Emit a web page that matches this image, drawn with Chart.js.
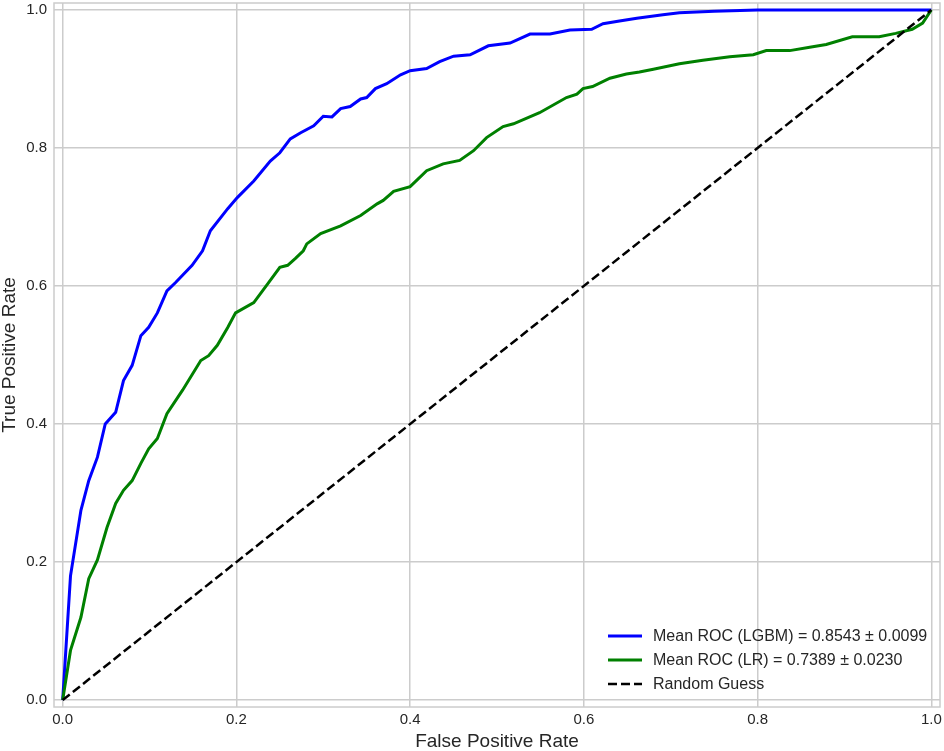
<!DOCTYPE html>
<html>
<head>
<meta charset="utf-8">
<script src="https://cdn.jsdelivr.net/npm/chart.js@4.4.1/dist/chart.umd.min.js"></script>
<style>
  html, body { margin: 0; padding: 0; background: #fff; }
  #wrap { width: 944px; height: 751px; position: relative; }
</style>
</head>
<body>
<div id="wrap"><canvas id="roc"></canvas></div>
<script>
// mean ROC curves
const lgbmFpr = [0, 0.009, 0.021, 0.030, 0.040, 0.049, 0.061, 0.070, 0.080, 0.090, 0.099, 0.109, 0.120, 0.130, 0.149, 0.161, 0.170, 0.190, 0.201, 0.220, 0.239, 0.250, 0.262, 0.274, 0.289, 0.300, 0.310, 0.320, 0.331, 0.343, 0.350, 0.360, 0.373, 0.389, 0.400, 0.419, 0.434, 0.450, 0.469, 0.490, 0.515, 0.538, 0.561, 0.584, 0.609, 0.622, 0.641, 0.661, 0.691, 0.710, 0.750, 0.800, 1.0];
const lgbmTpr = [0, 0.180, 0.275, 0.318, 0.352, 0.400, 0.417, 0.463, 0.485, 0.528, 0.540, 0.561, 0.593, 0.605, 0.630, 0.651, 0.680, 0.712, 0.728, 0.752, 0.781, 0.793, 0.813, 0.822, 0.832, 0.846, 0.845, 0.857, 0.860, 0.871, 0.873, 0.886, 0.893, 0.906, 0.912, 0.915, 0.925, 0.933, 0.935, 0.948, 0.952, 0.965, 0.965, 0.971, 0.972, 0.980, 0.984, 0.988, 0.993, 0.996, 0.998, 1.0, 1.0];

const lrFpr = [0, 0.009, 0.021, 0.030, 0.040, 0.051, 0.061, 0.070, 0.080, 0.090, 0.099, 0.109, 0.120, 0.138, 0.159, 0.168, 0.178, 0.190, 0.199, 0.220, 0.236, 0.250, 0.259, 0.268, 0.277, 0.281, 0.297, 0.320, 0.343, 0.362, 0.369, 0.381, 0.400, 0.419, 0.438, 0.457, 0.473, 0.488, 0.507, 0.519, 0.549, 0.580, 0.592, 0.599, 0.610, 0.630, 0.649, 0.664, 0.680, 0.710, 0.737, 0.768, 0.795, 0.810, 0.837, 0.860, 0.879, 0.909, 0.940, 0.959, 0.978, 0.990, 1.0];
const lrTpr = [0, 0.072, 0.120, 0.176, 0.203, 0.250, 0.285, 0.304, 0.318, 0.343, 0.364, 0.379, 0.415, 0.449, 0.492, 0.499, 0.514, 0.540, 0.561, 0.576, 0.603, 0.627, 0.630, 0.640, 0.651, 0.661, 0.676, 0.687, 0.702, 0.719, 0.724, 0.737, 0.744, 0.767, 0.777, 0.782, 0.796, 0.815, 0.831, 0.835, 0.851, 0.873, 0.878, 0.886, 0.889, 0.901, 0.907, 0.910, 0.914, 0.922, 0.927, 0.932, 0.935, 0.941, 0.941, 0.946, 0.950, 0.961, 0.961, 0.966, 0.972, 0.981, 1.0];

const guessFpr = [0, 1];
const guessTpr = [0, 1];

const seriesLabels = [
  'Mean ROC (LGBM) = 0.8543 \u00b1 0.0099',
  'Mean ROC (LR) = 0.7389 \u00b1 0.0230',
  'Random Guess'
];
const tickVals = [0, 0.2, 0.4, 0.6, 0.8, 1.0];

function pts(xs, ys) {
  return xs.map((x, i) => ({ x: x, y: ys[i] }));
}

const FONT = "'Liberation Sans', Arial, sans-serif";
const TXT = '#262626';
const GRID = '#cccccc';

// frame round the plot area (all four spines)
const framePlugin = {
  id: 'frame',
  beforeDatasetsDraw(chart) {
    const a = chart.chartArea, c = chart.ctx;
    c.save();
    c.strokeStyle = GRID;
    c.lineWidth = 1.5;
    c.strokeRect(a.left, a.top, a.right - a.left, a.bottom - a.top);
    c.restore();
  }
};

// legend in the lower right corner of the plot, no frame
const innerLegend = {
  id: 'innerLegend',
  afterDatasetsDraw(chart) {
    const a = chart.chartArea, c = chart.ctx;
    const x0 = a.right - 332, x1 = x0 + 34, tx = x0 + 45;
    let y = a.bottom - 71;
    c.save();
    c.font = '16px ' + FONT;
    c.textBaseline = 'middle';
    c.textAlign = 'left';
    chart.data.datasets.forEach(ds => {
      c.beginPath();
      c.strokeStyle = ds.borderColor;
      c.lineWidth = ds.borderWidth;
      c.setLineDash(ds.borderDash || []);
      c.moveTo(x0, y);
      c.lineTo(x1, y);
      c.stroke();
      c.setLineDash([]);
      c.fillStyle = TXT;
      c.fillText(ds.label, tx, y + 1);
      y += 24;
    });
    c.restore();
  }
};

function axis(title, isY) {
  return {
    type: 'linear',
    min: -0.01,
    max: 1.01,
    afterBuildTicks: (s) => { s.ticks = tickVals.map(v => ({ value: v })); },
    afterFit: (s) => {
      if (isY) { s.width = 54; s.paddingTop = 0; s.paddingBottom = 0; }
      else { s.height = 44; s.paddingLeft = 0; s.paddingRight = 0; }
    },
    grid: { color: GRID, lineWidth: 1.5, drawTicks: false },
    border: { display: false },
    ticks: {
      padding: isY ? 7 : 4,
      color: TXT,
      font: { family: FONT, size: 15 },
      callback: (v) => Number(v).toFixed(1)
    },
    title: {
      display: true,
      text: title,
      color: TXT,
      font: { family: FONT, size: 19, lineHeight: 1 },
      padding: { top: 0, bottom: 0 }
    }
  };
}

new Chart(document.getElementById('roc'), {
  type: 'line',
  data: {
    datasets: [
      { label: seriesLabels[0], data: pts(lgbmFpr, lgbmTpr), borderColor: '#0000ff', borderWidth: 3, order: 3 },
      { label: seriesLabels[1], data: pts(lrFpr, lrTpr), borderColor: '#008000', borderWidth: 3, order: 2 },
      { label: seriesLabels[2], data: pts(guessFpr, guessTpr), borderColor: '#000000', borderWidth: 2.5, borderDash: [9, 4], order: 1 }
    ]
  },
  options: {
    responsive: true,
    maintainAspectRatio: false,
    animation: false,
    layout: { padding: { top: 3, right: 4, bottom: 0, left: 0 } },
    elements: { point: { radius: 0 }, line: { tension: 0, fill: false } },
    plugins: { legend: { display: false }, tooltip: { enabled: false } },
    scales: {
      x: axis('False Positive Rate', false),
      y: axis('True Positive Rate', true)
    }
  },
  plugins: [framePlugin, innerLegend]
});
</script>
</body>
</html>
